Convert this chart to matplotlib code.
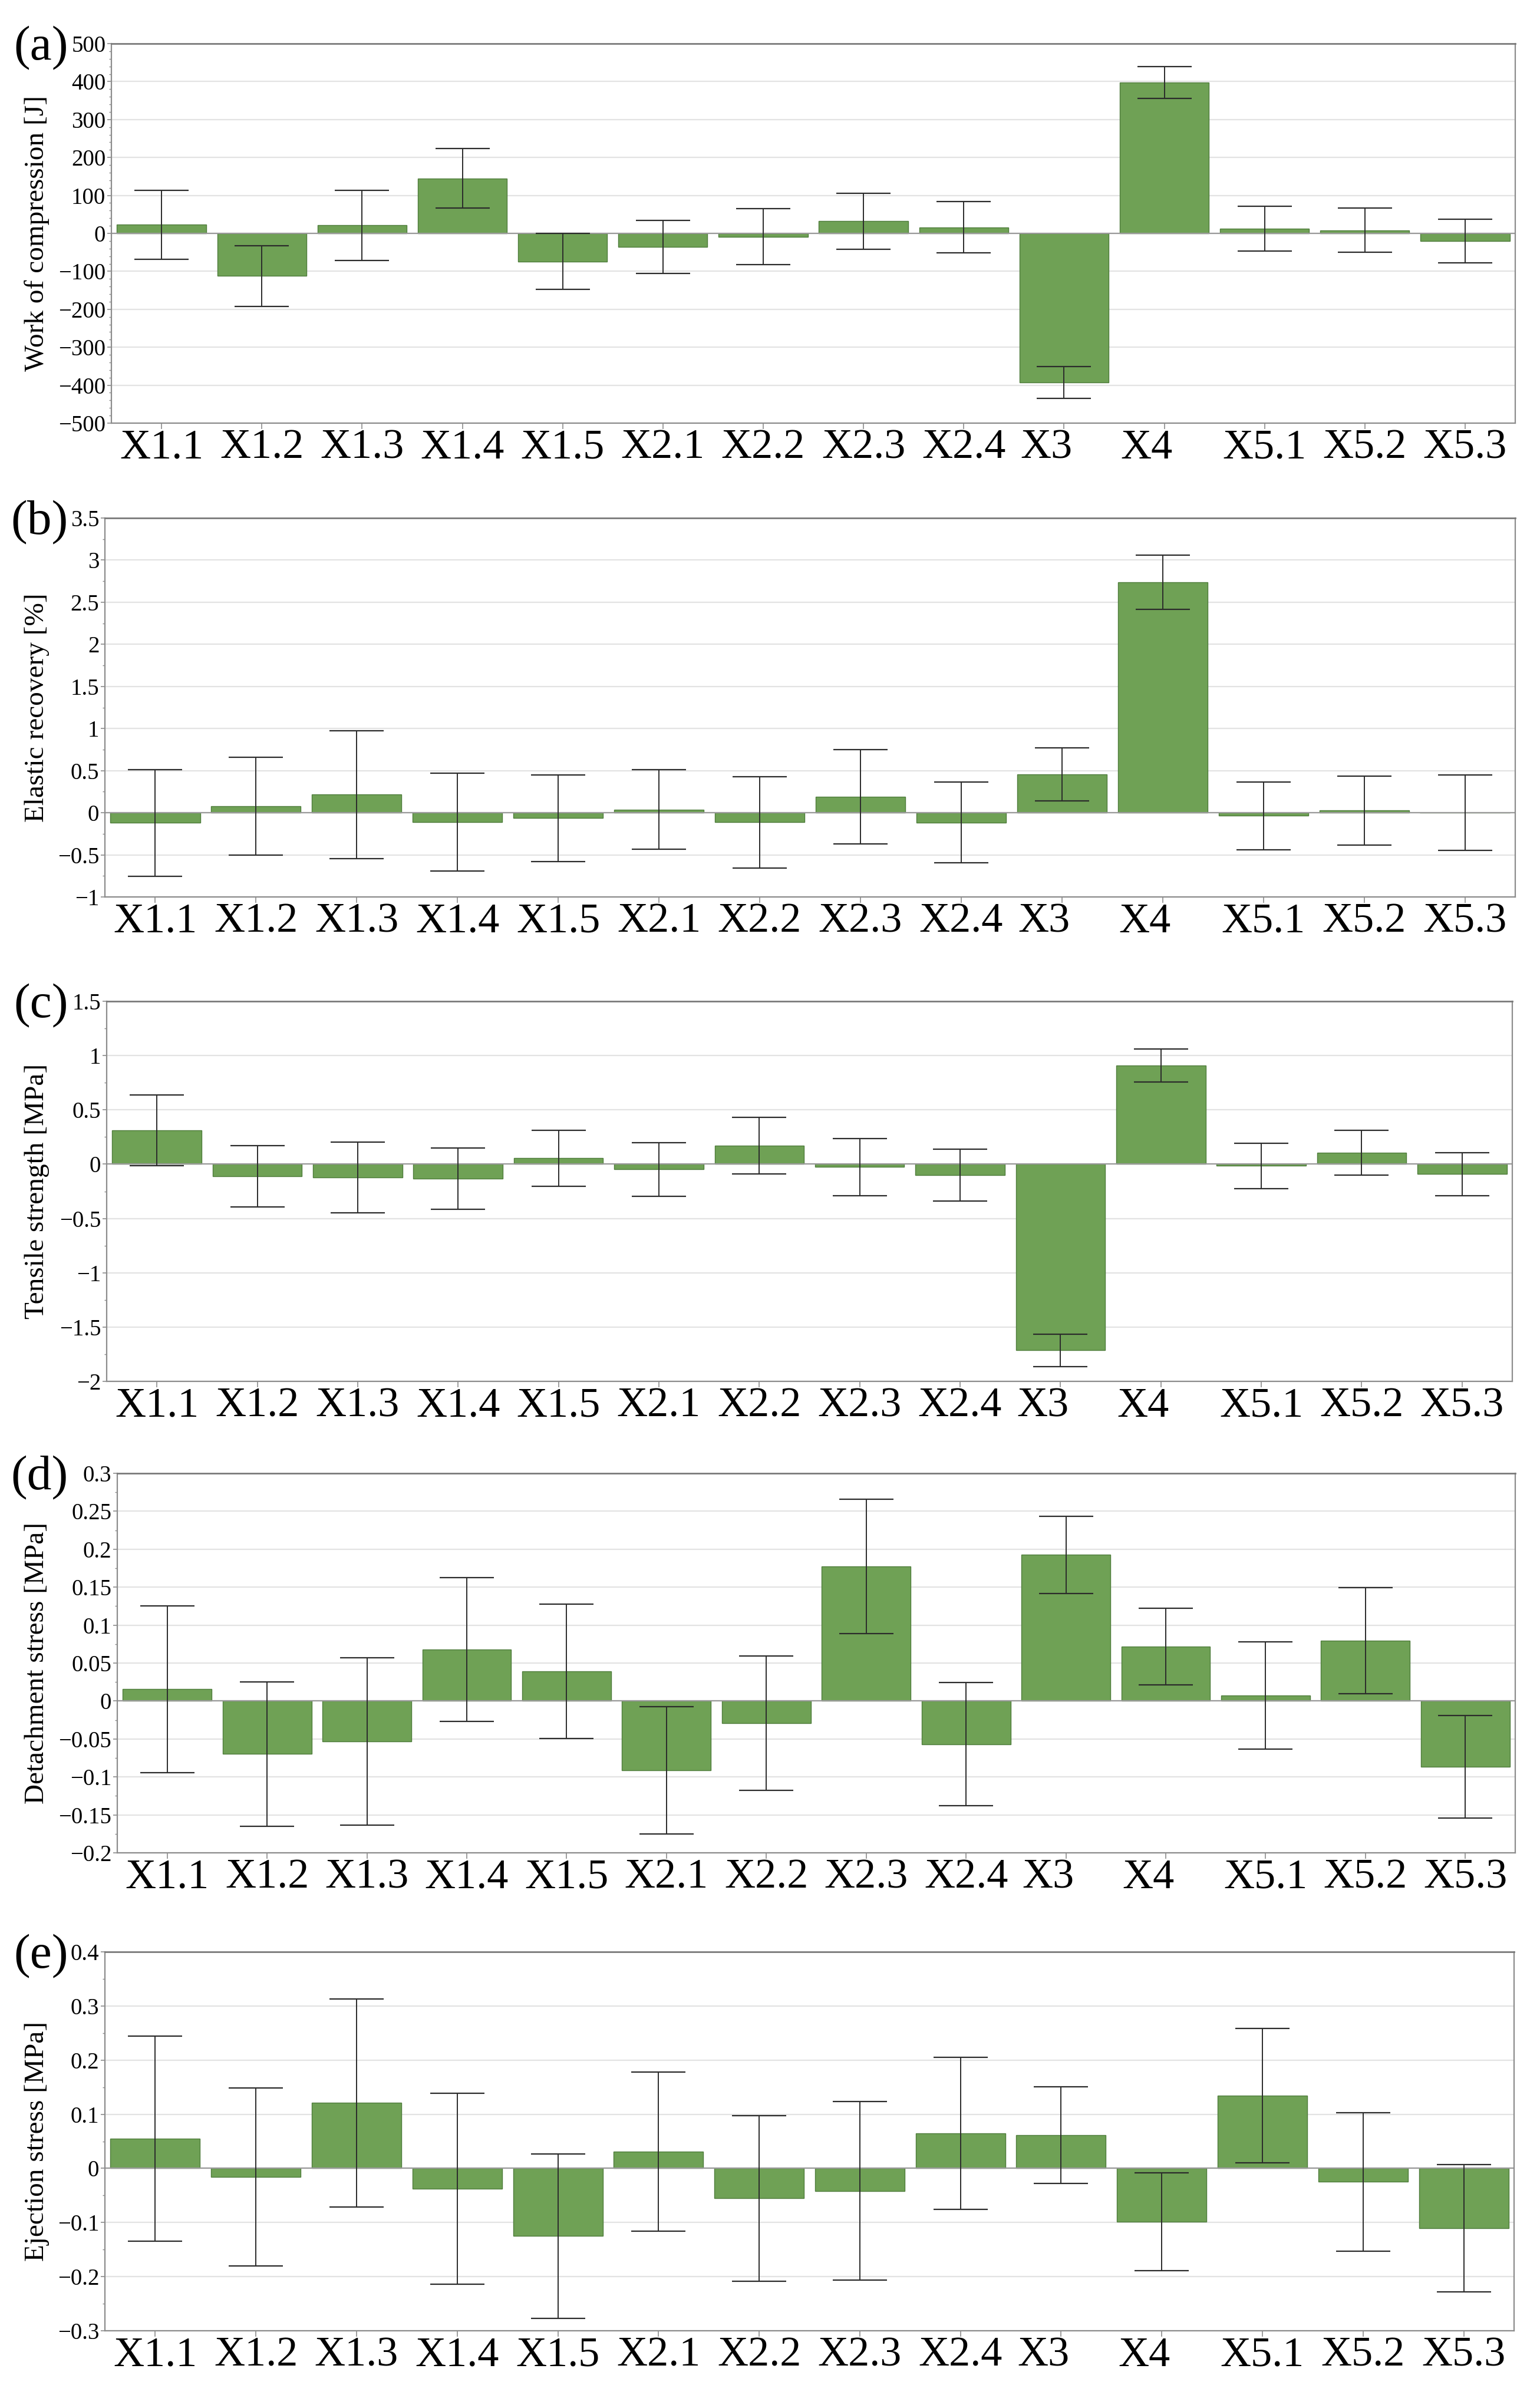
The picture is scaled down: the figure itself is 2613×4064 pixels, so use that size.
"""
Effets des facteurs X1.1 ... X5.3 sur cinq propriétés des comprimés.
Graphique en barres avec barres d'erreur, cinq panneaux (a)-(e).
"""

import matplotlib
matplotlib.use("Agg")
import matplotlib.pyplot as plt
import matplotlib.transforms as mtransforms
from matplotlib.ticker import AutoMinorLocator, FuncFormatter, MultipleLocator

plt.rcParams["font.family"] = ["Liberation Serif", "DejaVu Serif"]

# Données
factors = ["X1.1", "X1.2", "X1.3", "X1.4", "X1.5", "X2.1", "X2.2",
           "X2.3", "X2.4", "X3", "X4", "X5.1", "X5.2", "X5.3"]

work_mean = [23, -112, 21, 145, -74, -36, -9, 32, 16, -393, 398, 12, 8, -20]
work_err = [91, 80, 92, 79, 74, 70, 74, 74, 68, 42, 42, 59, 58, 57]

elastic_mean = [-0.12, 0.08, 0.215, -0.112, -0.065, 0.039, -0.114,
                0.19, -0.115, 0.456, 2.738, -0.035, 0.026, 0.002]
elastic_err = [0.632, 0.582, 0.76, 0.58, 0.515, 0.475, 0.54,
               0.56, 0.48, 0.315, 0.32, 0.403, 0.408, 0.448]

tensile_mean = [0.31, -0.113, -0.124, -0.134, 0.054, -0.049, 0.171,
                -0.027, -0.102, -1.714, 0.909, -0.016, 0.105, -0.092]
tensile_err = [0.325, 0.281, 0.325, 0.281, 0.26, 0.248, 0.262,
               0.262, 0.24, 0.15, 0.15, 0.209, 0.206, 0.2]

detach_mean = [0.0155, -0.0698, -0.0533, 0.0679, 0.0394, -0.091, -0.0294,
               0.1771, -0.0568, 0.1926, 0.0718, 0.007, 0.0795, -0.0866]
detach_err = [0.11, 0.0953, 0.1105, 0.095, 0.0884, 0.0838, 0.0884,
              0.0884, 0.081, 0.0507, 0.0505, 0.0707, 0.0697, 0.0673]

eject_mean = [0.0553, -0.0156, 0.1212, -0.0377, -0.125, 0.0305, -0.0553,
              -0.0415, 0.065, 0.0615, -0.0989, 0.1345, -0.025, -0.1104]
eject_err = [0.1894, 0.1646, 0.1921, 0.176, 0.1517, 0.147, 0.1531,
             0.1645, 0.1406, 0.0895, 0.0906, 0.1241, 0.1275, 0.1177]

W, H = 2613, 4064
DPI = 100
BAR_COLOR = "#6fa155"
GRID_COLOR = "#e3e3e3"
AXIS_COLOR = "#8c8c8c"

# (tag, ylabel, moyennes, erreurs, ylim, pas majeur, nb mineurs,
#  rectangle en pixels gauche/droite/haut/bas)
panels = [
    ("(a)", "Work of compression [J]", work_mean, work_err,
     (-500, 500), 100, 5, (189, 2571, 74, 718)),
    ("(b)", "Elastic recovery [%]", elastic_mean, elastic_err,
     (-1, 3.5), 0.5, 2, (178, 2571, 879, 1522)),
    ("(c)", "Tensile strength [MPa]", tensile_mean, tensile_err,
     (-2, 1.5), 0.5, 2, (181, 2566, 1699, 2344)),
    ("(d)", "Detachment stress [MPa]", detach_mean, detach_err,
     (-0.2, 0.3), 0.05, 2, (199, 2571, 2500, 3144)),
    ("(e)", "Ejection stress [MPa]", eject_mean, eject_err,
     (-0.3, 0.4), 0.1, 2, (178, 2569, 3312, 3955)),
]


def fmt_tick(v, _pos):
    s = f"{v:.2f}".rstrip("0").rstrip(".")
    if s in ("-0", ""):
        s = "0"
    return s.replace("-", "\u2212")


def draw_panel(fig, tag, ylabel, means, errs, ylim, major, n_minor, rect):
    left, right, top, bottom = rect
    ax = fig.add_axes([left / W, (H - bottom) / H,
                       (right - left) / W, (bottom - top) / H])
    x = list(range(len(factors)))

    ax.bar(x, means, width=0.89, color=BAR_COLOR, edgecolor="#4f7d3c",
           linewidth=1.0, zorder=2)
    ax.errorbar(x, means, yerr=errs, fmt="none", ecolor="#2b2b2b",
                elinewidth=1.4, capsize=33, capthick=1.6, zorder=3)
    ax.axhline(0, color="#9a9a9a", linewidth=1.6, zorder=2.5)

    ax.set_xlim(-0.5, len(factors) - 0.5)
    ax.set_ylim(*ylim)
    ax.yaxis.set_major_locator(MultipleLocator(major))
    ax.yaxis.set_minor_locator(AutoMinorLocator(n_minor))
    ax.yaxis.set_major_formatter(FuncFormatter(fmt_tick))
    ax.grid(axis="y", which="major", color=GRID_COLOR, linewidth=1.6, zorder=0)
    ax.set_axisbelow(True)

    for side in ("left", "right", "top", "bottom"):
        ax.spines[side].set_color(AXIS_COLOR)
        ax.spines[side].set_linewidth(1.6)
    ax.spines["top"].set_color("#7a7a7a")
    ax.spines["top"].set_linewidth(2.0)

    ax.set_xticks(x)
    ax.set_xticklabels(factors, fontsize=52)
    ax.tick_params(axis="x", length=7, width=1.2, color=AXIS_COLOR, pad=0)
    ax.tick_params(axis="y", which="major", length=5, width=1.2,
                   color=AXIS_COLOR, pad=2, labelsize=28)
    ax.tick_params(axis="y", which="minor", length=3, width=1.0,
                   color=AXIS_COLOR)

    # X3 et X4 sont un peu décalés vers la gauche dans l'original
    shift = mtransforms.ScaledTranslation(-30 / DPI, 0, fig.dpi_scale_trans)
    for lab in ax.get_xticklabels():
        if lab.get_text() in ("X3", "X4"):
            lab.set_transform(lab.get_transform() + shift)

    ax.set_ylabel(ylabel, fontsize=34)
    ax.yaxis.set_label_coords(
        84 / W, 0.5,
        transform=mtransforms.blended_transform_factory(fig.transFigure,
                                                        ax.transAxes))

    fig.text(116 / W, (H - top - 8) / H, tag, fontsize=60,
             ha="right", va="center")
    return ax


fig = plt.figure(figsize=(W / DPI, H / DPI), dpi=DPI)
fig.patch.set_facecolor("white")

for p in panels:
    draw_panel(fig, *p)

fig.savefig("out.png", dpi=DPI, facecolor="white")
plt.close(fig)
